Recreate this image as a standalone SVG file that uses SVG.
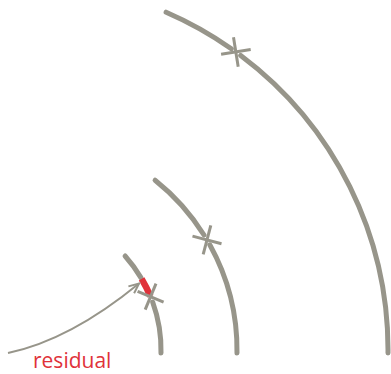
<svg xmlns="http://www.w3.org/2000/svg" width="391" height="374" viewBox="0 0 391 374">
<defs>
<style>
.arc{fill:none;stroke:#97958a;stroke-width:5;stroke-linecap:round}
.tick{stroke:#97958a;stroke-width:3;stroke-linecap:butt}
.red{fill:none;stroke:#e0323a;stroke-width:6.5;stroke-linecap:butt}
.conn{fill:none;stroke:#97958a;stroke-width:2}
.lbl{font-family:"Open Sans","Noto Sans",sans-serif;font-size:21px;fill:#e0323a}
</style>
<marker id="ah" viewBox="-11 -6 13 12" refX="0" refY="0" markerWidth="13" markerHeight="12" markerUnits="userSpaceOnUse" orient="auto">
<path d="M-10,-4.5 L0,0 L-10,4.5" fill="none" stroke="#97958a" stroke-width="2" stroke-linejoin="miter"/>
</marker>
</defs>
<rect width="391" height="374" fill="#ffffff"/>
<g id="outer">
<path class="arc" d="M166.1,12.2 A368,368 0 0 1 231.3,48.7"/>
<path class="arc" d="M240.7,55.5 A368,368 0 0 1 388,353"/>
<line class="tick" x1="221.1" y1="54.3" x2="250.7" y2="49.6"/>
<line class="tick" x1="233.5" y1="37.2" x2="238.2" y2="66.8"/>
</g>
<g id="middle">
<path class="arc" d="M155.1,180.2 A217,217 0 0 1 204,235"/>
<path class="arc" d="M209.8,244.8 A217,217 0 0 1 237,353"/>
<line class="tick" x1="192.5" y1="236.1" x2="221.5" y2="243.7"/>
<line class="tick" x1="210.8" y1="225.4" x2="203.2" y2="254.4"/>
</g>
<g id="inner">
<path class="arc" d="M125.1,256 A141,141 0 0 1 140.9,277.6"/>
<path class="red" d="M141.6,278.8 A141,141 0 0 1 150.4,296.3"/>
<path class="arc" d="M152.7,302.2 A141,141 0 0 1 161,353"/>
<line class="tick" x1="137.6" y1="291.3" x2="163.6" y2="302.1"/>
<line class="tick" x1="156.0" y1="283.7" x2="145.2" y2="309.7"/>
</g>
<g id="connectors">
<path class="conn" d="M8,353 Q70,340 139,283.5" marker-end="url(#ah)"/>
</g>
<g id="label">
<text class="lbl" x="33" y="368">residual</text>
</g>
</svg>
